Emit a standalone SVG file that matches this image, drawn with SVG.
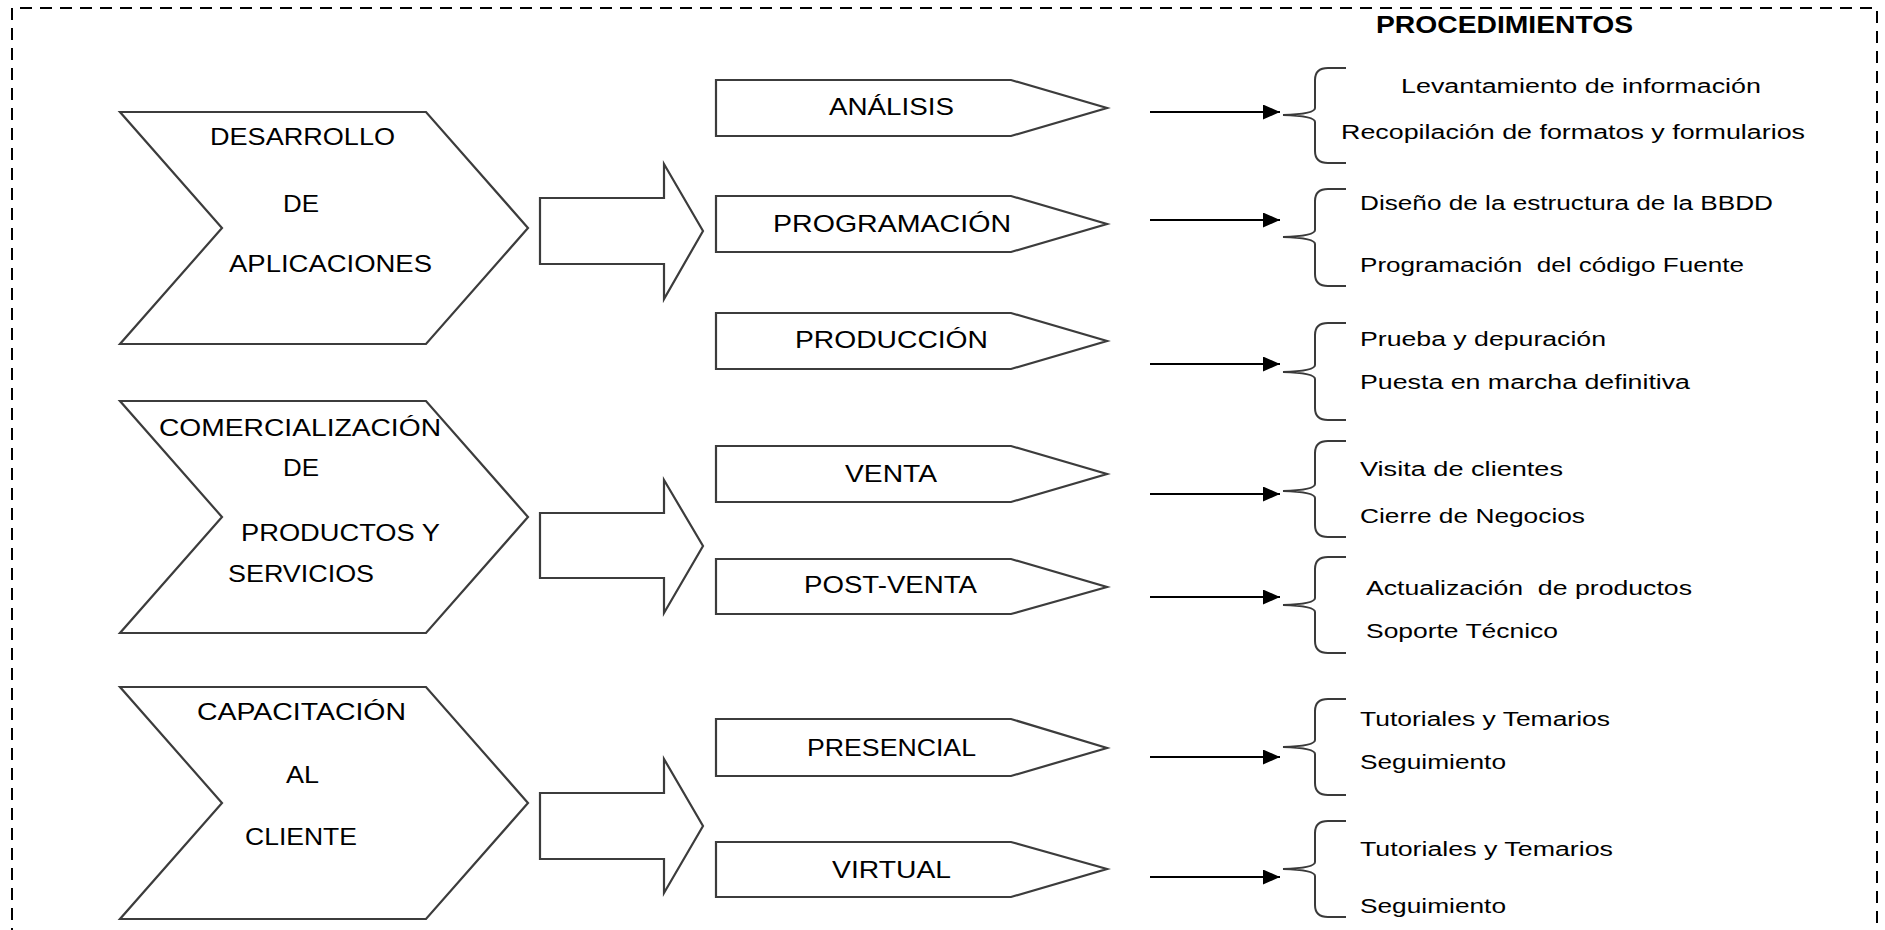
<svg xmlns="http://www.w3.org/2000/svg" width="1885" height="930" viewBox="0 0 1885 930">
  <style>
    .frame { fill: none; stroke: #000; stroke-width: 2; stroke-dasharray: 12 8; }
    .shape { fill: #fff; stroke: #3c3c3c; stroke-width: 2.2; stroke-linejoin: miter; }
    .brace { fill: none; stroke: #3a3a3a; stroke-width: 2; }
    .link { stroke: #000; stroke-width: 2.2; fill: none; }
    .lbl { font-family: "Liberation Sans", Arial, sans-serif; font-size: 24px; fill: #000; }
    .item { font-family: "Liberation Sans", Arial, sans-serif; font-size: 20px; fill: #000; }
    .title { font-family: "Liberation Sans", Arial, sans-serif; font-size: 23px; font-weight: bold; fill: #000; }
  </style>
  <defs>
    <marker id="head" markerUnits="userSpaceOnUse" markerWidth="18" markerHeight="16" refX="17" refY="7.5" orient="auto">
      <path d="M0,0 L17,7.5 L0,15 z" fill="#000"/>
    </marker>
  </defs>

  <rect width="1885" height="930" fill="#fff"/>
  <!-- dashed outer frame (open at the bottom edge of the sheet) -->
  <path class="frame" d="M12,960 L12,8 L1877,8 L1877,960"/>

  <text class="title" x="1376" y="33" textLength="257" lengthAdjust="spacingAndGlyphs">PROCEDIMIENTOS</text>

  <!-- main area chevrons -->
  <g id="area-desarrollo">
    <polygon class="shape" points="120,112 426,112 528,228 426,344 120,344 222,228"/>
    <text class="lbl" x="210" y="145" textLength="185" lengthAdjust="spacingAndGlyphs">DESARROLLO</text>
    <text class="lbl" x="283" y="212" textLength="36" lengthAdjust="spacingAndGlyphs">DE</text>
    <text class="lbl" x="229" y="272" textLength="203" lengthAdjust="spacingAndGlyphs">APLICACIONES</text>
  </g>
  <g id="area-comercializacion">
    <polygon class="shape" points="120,401 426,401 528,517 426,633 120,633 222,517"/>
    <text class="lbl" x="159" y="436" textLength="282" lengthAdjust="spacingAndGlyphs">COMERCIALIZACIÓN</text>
    <text class="lbl" x="283" y="476" textLength="36" lengthAdjust="spacingAndGlyphs">DE</text>
    <text class="lbl" x="241" y="541" textLength="199" lengthAdjust="spacingAndGlyphs">PRODUCTOS Y</text>
    <text class="lbl" x="228" y="582" textLength="146" lengthAdjust="spacingAndGlyphs">SERVICIOS</text>
  </g>
  <g id="area-capacitacion">
    <polygon class="shape" points="120,687 426,687 528,803 426,919 120,919 222,803"/>
    <text class="lbl" x="197" y="720" textLength="209" lengthAdjust="spacingAndGlyphs">CAPACITACIÓN</text>
    <text class="lbl" x="286" y="783" textLength="33" lengthAdjust="spacingAndGlyphs">AL</text>
    <text class="lbl" x="245" y="845" textLength="112" lengthAdjust="spacingAndGlyphs">CLIENTE</text>
  </g>

  <!-- block arrows from each area to its phases -->
  <g id="block-arrows">
    <polygon class="shape" points="540,198 664,198 664,164 703,231 664,299 664,264 540,264"/>
    <polygon class="shape" points="540,513 664,513 664,480 703,546 664,613 664,578 540,578"/>
    <polygon class="shape" points="540,793 664,793 664,759 703,826 664,893 664,859 540,859"/>
  </g>

  <!-- phase tags -->
  <g id="fase-analisis">
    <polygon class="shape" points="716,80 1011,80 1107,108 1011,136 716,136"/>
    <text class="lbl" x="829" y="115" textLength="125" lengthAdjust="spacingAndGlyphs">ANÁLISIS</text>
  </g>
  <g id="fase-programacion">
    <polygon class="shape" points="716,196 1011,196 1107,224 1011,252 716,252"/>
    <text class="lbl" x="773" y="232" textLength="238" lengthAdjust="spacingAndGlyphs">PROGRAMACIÓN</text>
  </g>
  <g id="fase-produccion">
    <polygon class="shape" points="716,313 1011,313 1107,341 1011,369 716,369"/>
    <text class="lbl" x="795" y="348" textLength="193" lengthAdjust="spacingAndGlyphs">PRODUCCIÓN</text>
  </g>
  <g id="fase-venta">
    <polygon class="shape" points="716,446 1011,446 1107,474 1011,502 716,502"/>
    <text class="lbl" x="845" y="482" textLength="92" lengthAdjust="spacingAndGlyphs">VENTA</text>
  </g>
  <g id="fase-postventa">
    <polygon class="shape" points="716,559 1011,559 1107,587 1011,614 716,614"/>
    <text class="lbl" x="804" y="593" textLength="173" lengthAdjust="spacingAndGlyphs">POST-VENTA</text>
  </g>
  <g id="fase-presencial">
    <polygon class="shape" points="716,719 1011,719 1107,748 1011,776 716,776"/>
    <text class="lbl" x="807" y="756" textLength="169" lengthAdjust="spacingAndGlyphs">PRESENCIAL</text>
  </g>
  <g id="fase-virtual">
    <polygon class="shape" points="716,842 1011,842 1107,869 1011,897 716,897"/>
    <text class="lbl" x="832" y="878" textLength="119" lengthAdjust="spacingAndGlyphs">VIRTUAL</text>
  </g>

  <!-- connectors from phases to procedures -->
  <g id="connectors">
    <line class="link" x1="1150" y1="112" x2="1280" y2="112" marker-end="url(#head)"/>
    <line class="link" x1="1150" y1="220" x2="1280" y2="220" marker-end="url(#head)"/>
    <line class="link" x1="1150" y1="364" x2="1280" y2="364" marker-end="url(#head)"/>
    <line class="link" x1="1150" y1="494" x2="1280" y2="494" marker-end="url(#head)"/>
    <line class="link" x1="1150" y1="597" x2="1280" y2="597" marker-end="url(#head)"/>
    <line class="link" x1="1150" y1="757" x2="1280" y2="757" marker-end="url(#head)"/>
    <line class="link" x1="1150" y1="877" x2="1280" y2="877" marker-end="url(#head)"/>
  </g>

  <!-- procedure groups: brace + items -->
  <g id="proc-analisis">
    <path class="brace" d="M1346,68 L1328,68 Q1315,68 1315,80 L1315,108 Q1315,114 1283,115 Q1315,116 1315,122 L1315,151 Q1315,163 1328,163 L1346,163"/>
    <text class="item" x="1401" y="93" textLength="360" lengthAdjust="spacingAndGlyphs">Levantamiento de información</text>
    <text class="item" x="1341" y="139" textLength="464" lengthAdjust="spacingAndGlyphs">Recopilación de formatos y formularios</text>
  </g>
  <g id="proc-programacion">
    <path class="brace" d="M1346,189 L1328,189 Q1315,189 1315,201 L1315,230 Q1315,236 1283,237 Q1315,238 1315,244 L1315,274 Q1315,286 1328,286 L1346,286"/>
    <text class="item" x="1360" y="210" textLength="413" lengthAdjust="spacingAndGlyphs">Diseño de la estructura de la BBDD</text>
    <text class="item" x="1360" y="272" textLength="384" lengthAdjust="spacingAndGlyphs" xml:space="preserve">Programación  del código Fuente</text>
  </g>
  <g id="proc-produccion">
    <path class="brace" d="M1346,323 L1328,323 Q1315,323 1315,335 L1315,365 Q1315,371 1283,372 Q1315,373 1315,379 L1315,408 Q1315,420 1328,420 L1346,420"/>
    <text class="item" x="1360" y="346" textLength="246" lengthAdjust="spacingAndGlyphs">Prueba y depuración</text>
    <text class="item" x="1360" y="389" textLength="330" lengthAdjust="spacingAndGlyphs">Puesta en marcha definitiva</text>
  </g>
  <g id="proc-venta">
    <path class="brace" d="M1346,441 L1328,441 Q1315,441 1315,453 L1315,484 Q1315,490 1283,491 Q1315,492 1315,498 L1315,525 Q1315,537 1328,537 L1346,537"/>
    <text class="item" x="1360" y="476" textLength="203" lengthAdjust="spacingAndGlyphs">Visita de clientes</text>
    <text class="item" x="1360" y="523" textLength="225" lengthAdjust="spacingAndGlyphs">Cierre de Negocios</text>
  </g>
  <g id="proc-postventa">
    <path class="brace" d="M1346,557 L1328,557 Q1315,557 1315,569 L1315,598 Q1315,604 1283,605 Q1315,606 1315,612 L1315,641 Q1315,653 1328,653 L1346,653"/>
    <text class="item" x="1366" y="595" textLength="326" lengthAdjust="spacingAndGlyphs" xml:space="preserve">Actualización  de productos</text>
    <text class="item" x="1366" y="638" textLength="192" lengthAdjust="spacingAndGlyphs">Soporte Técnico</text>
  </g>
  <g id="proc-presencial">
    <path class="brace" d="M1346,699 L1328,699 Q1315,699 1315,711 L1315,740 Q1315,746 1283,747 Q1315,748 1315,754 L1315,783 Q1315,795 1328,795 L1346,795"/>
    <text class="item" x="1360" y="726" textLength="250" lengthAdjust="spacingAndGlyphs">Tutoriales y Temarios</text>
    <text class="item" x="1360" y="769" textLength="146" lengthAdjust="spacingAndGlyphs">Seguimiento</text>
  </g>
  <g id="proc-virtual">
    <path class="brace" d="M1346,821 L1328,821 Q1315,821 1315,833 L1315,862 Q1315,868 1283,869 Q1315,870 1315,876 L1315,905 Q1315,917 1328,917 L1346,917"/>
    <text class="item" x="1360" y="856" textLength="253" lengthAdjust="spacingAndGlyphs">Tutoriales y Temarios</text>
    <text class="item" x="1360" y="913" textLength="146" lengthAdjust="spacingAndGlyphs">Seguimiento</text>
  </g>
</svg>
